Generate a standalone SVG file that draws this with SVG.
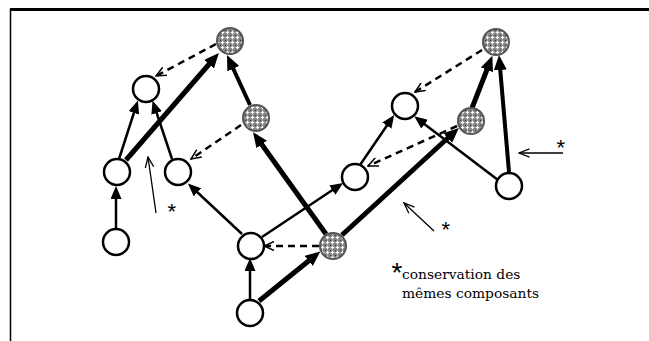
<svg xmlns="http://www.w3.org/2000/svg" width="649" height="341" viewBox="0 0 649 341">
<style>
.w{fill:#fff;stroke:#000;stroke-width:2.5}
.g{fill:url(#tex);stroke:#555;stroke-width:2}
.t{fill:none;stroke:#000;stroke-width:2.5;marker-end:url(#ah)}
.b{fill:none;stroke:#000;stroke-width:5;marker-end:url(#ahb)}
.m{fill:none;stroke:#000;stroke-width:4;marker-end:url(#ahb)}
.d{fill:none;stroke:#000;stroke-width:2.5;stroke-dasharray:7,5;marker-end:url(#ao)}
.a{fill:none;stroke:#000;stroke-width:1.3;marker-end:url(#aa)}
.st{font-family:"Liberation Sans",Arial,sans-serif;font-size:22px;fill:#000}
.lbl{font-family:"DejaVu Serif","Liberation Serif",serif;font-size:13.8px;fill:#000}
</style>
<defs>
<pattern id="tex" width="5" height="5" patternUnits="userSpaceOnUse">
<rect width="5" height="5" fill="#858585"/>
<path d="M2.5 0.8V4.2M0.8 2.5H4.2" stroke="#fff" stroke-width="1.2"/>
<rect x="0" y="0" width="1" height="1" fill="#333"/>
</pattern>
<marker id="ah" markerUnits="userSpaceOnUse" markerWidth="13" markerHeight="11" refX="2" refY="5.5" orient="auto">
<path d="M0,0 L13,5.5 L0,11 z" fill="#000"/>
</marker>
<marker id="ahb" markerUnits="userSpaceOnUse" markerWidth="15" markerHeight="13" refX="3" refY="6.5" orient="auto">
<path d="M0,0 L15,6.5 L0,13 z" fill="#000"/>
</marker>
<marker id="ao" markerUnits="userSpaceOnUse" markerWidth="12" markerHeight="10" refX="11" refY="5" orient="auto">
<path d="M1,0.5 L11,5 L1,9.5" fill="none" stroke="#000" stroke-width="1.5"/>
</marker>
<marker id="aa" markerUnits="userSpaceOnUse" markerWidth="12" markerHeight="10" refX="11" refY="5" orient="auto">
<path d="M0.5,0.8 L11,5 L0.5,9.2" fill="none" stroke="#000" stroke-width="1.3"/>
</marker>
</defs>
<rect width="649" height="341" fill="#fff"/>
<path d="M10.5 341V9.5H649" fill="none" stroke="#000" stroke-width="1.5"/>
<path d="M10 9.5H649" stroke="#000" stroke-width="3"/>
<g id="connectors">
<path class="t" d="M119,159 L134.5,111"/>
<path class="t" d="M172,159 L156,111"/>
<path class="b" d="M126,160 L211,62"/>
<path class="t" d="M116,228 L116,197"/>
<path class="m" d="M250,105 L232,66"/>
<path class="b" d="M326,234 L260,142"/>
<path class="t" d="M242,234 L196,191"/>
<path class="t" d="M262,237 L334,189"/>
<path class="d" d="M319,246 L264,246"/>
<path class="t" d="M250,299 L250,269"/>
<path class="b" d="M259,301 L311,259"/>
<path class="b" d="M342,235 L450,136"/>
<path class="t" d="M360,165 L388,124"/>
<path class="d" d="M457,126 L368,166"/>
<path class="d" d="M482,50 L415,92"/>
<path class="b" d="M472,108 L488,67"/>
<path class="m" d="M509,172 L500,67"/>
<path class="t" d="M498,180 L423,123"/>
<path class="d" d="M216,44 L156,76"/>
<path class="d" d="M241,125 L191,159"/>
<path class="a" d="M156,213 L148,157"/>
<path class="a" d="M434,231 L404,203"/>
<path class="a" d="M563,153 L519,153"/>
</g>
<g id="A"><circle class="w" cx="146" cy="89" r="13"/></g>
<g id="B"><circle class="g" cx="230" cy="41" r="13"/></g>
<g id="C"><circle class="g" cx="256" cy="118" r="13"/></g>
<g id="D"><circle class="w" cx="117" cy="172" r="13"/></g>
<g id="E"><circle class="w" cx="178" cy="172" r="13"/></g>
<g id="F"><circle class="w" cx="116" cy="242" r="13"/></g>
<g id="G"><circle class="w" cx="251" cy="246" r="13"/></g>
<g id="H"><circle class="w" cx="250" cy="313" r="13"/></g>
<g id="I"><circle class="g" cx="333" cy="246" r="13"/></g>
<g id="J"><circle class="w" cx="355" cy="177" r="13"/></g>
<g id="K"><circle class="w" cx="405" cy="106" r="13"/></g>
<g id="L"><circle class="g" cx="471" cy="121" r="13"/></g>
<g id="M"><circle class="g" cx="496" cy="42" r="13"/></g>
<g id="N"><circle class="w" cx="509" cy="186" r="13"/></g>
<g id="notes">
<text class="st" x="167.5" y="219">*</text>
<text class="st" x="441.5" y="237">*</text>
<text class="st" x="556.5" y="155">*</text>
<text class="st" x="391.5" y="282" style="font-size:28px">*</text>
<text class="lbl" x="402" y="279">conservation des</text>
<text class="lbl" x="402" y="298">mêmes composants</text>
</g>
</svg>
